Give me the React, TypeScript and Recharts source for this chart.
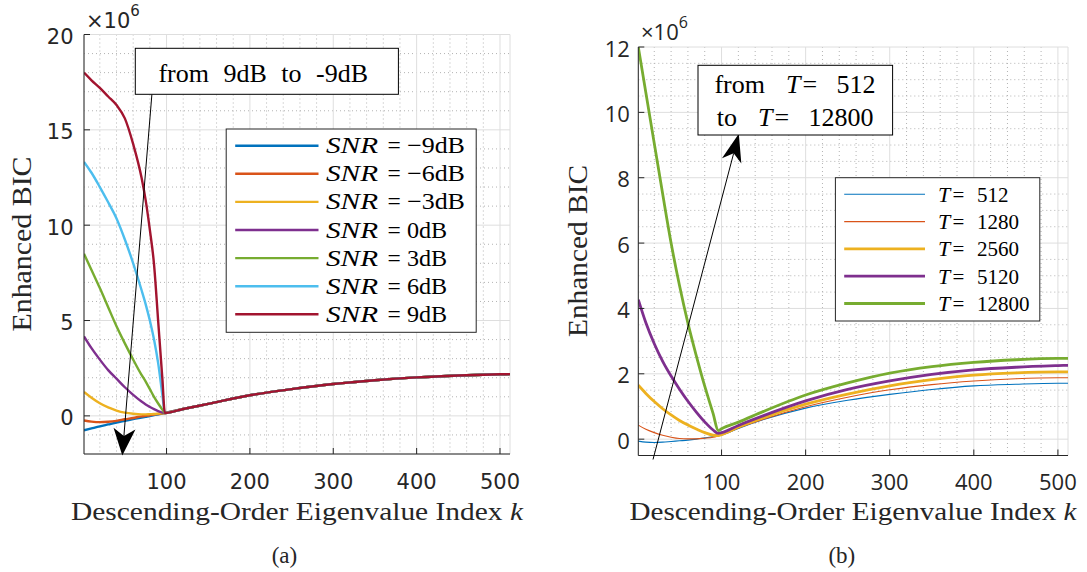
import React from 'react';
import { LineChart, Line, XAxis, YAxis, CartesianGrid } from 'recharts';

// ---------------- Plot (a): SNR sweep ----------------
const kA = [1, 10, 20, 30, 40, 50, 60, 70, 75, 80, 85, 90, 95, 98, 120, 150, 200, 250, 300, 350, 400, 450, 500, 512];
const tailA = [0.36, 0.63, 1.08, 1.4, 1.67, 1.87, 2.02, 2.12, 2.18, 2.19];
const snrM9 = [-0.76, -0.66, -0.55, -0.45, -0.35, -0.26, -0.17, -0.09, -0.05, -0.01, 0.04, 0.08, 0.12, 0.15];
const snrM6 = [-0.24, -0.3, -0.33, -0.31, -0.26, -0.18, -0.11, -0.03, 0.0, 0.03, 0.07, 0.1, 0.13, 0.15];
const snrM3 = [1.25, 0.95, 0.66, 0.44, 0.28, 0.17, 0.11, 0.08, 0.08, 0.09, 0.1, 0.12, 0.14, 0.15];
const snr0 = [4.17, 3.55, 2.95, 2.4, 1.95, 1.5, 1.1, 0.75, 0.6, 0.47, 0.35, 0.25, 0.17, 0.15];
const snr3 = [8.5, 7.65, 6.7, 5.7, 4.7, 3.8, 2.95, 2.15, 1.8, 1.4, 1.0, 0.65, 0.33, 0.15];
const snr6 = [13.32, 12.75, 12.0, 11.2, 10.35, 9.25, 8.0, 6.6, 5.85, 5.0, 4.0, 2.75, 1.1, 0.15];
const snr9 = [18.0, 17.6, 17.2, 16.75, 16.3, 15.6, 14.25, 12.5, 11.3, 9.75, 7.95, 4.95, 1.95, 0.15];
const headsA = [snrM9, snrM6, snrM3, snr0, snr3, snr6, snr9];
const labelsA = ['−9dB', '−6dB', '−3dB', '0dB', '3dB', '6dB', '9dB'];
const colorsA = ['#0072BD', '#D95319', '#EDB120', '#7E2F8E', '#77AC30', '#4DBEEE', '#A2142F'];
const yTicksA = [0, 5, 10, 15, 20];

// ---------------- Plot (b): T sweep ----------------
const kB = [1, 10, 20, 30, 40, 50, 60, 70, 80, 90, 96, 100, 120, 150, 200, 250, 300, 350, 400, 450, 500, 512];
const t512 = [-0.06, -0.09, -0.1, -0.09, -0.07, -0.05, -0.03, 0.0, 0.04, 0.08, 0.11, 0.13, 0.33, 0.6, 0.95, 1.19, 1.37, 1.52, 1.63, 1.68, 1.71, 1.71];
const t1280 = [0.43, 0.3, 0.2, 0.12, 0.06, 0.02, 0.01, 0.01, 0.03, 0.06, 0.1, 0.13, 0.34, 0.61, 0.99, 1.28, 1.51, 1.67, 1.78, 1.85, 1.88, 1.88];
const t2560 = [1.65, 1.4, 1.15, 0.93, 0.74, 0.57, 0.43, 0.31, 0.2, 0.12, 0.11, 0.14, 0.37, 0.66, 1.07, 1.38, 1.63, 1.82, 1.96, 2.03, 2.06, 2.06];
const t5120 = [4.27, 3.56, 2.92, 2.38, 1.93, 1.53, 1.16, 0.83, 0.53, 0.28, 0.18, 0.2, 0.42, 0.72, 1.17, 1.52, 1.78, 1.98, 2.12, 2.2, 2.25, 2.26];
const t12800 = [12.0, 10.6, 9.05, 7.5, 6.0, 4.7, 3.55, 2.55, 1.62, 0.78, 0.26, 0.32, 0.52, 0.85, 1.35, 1.72, 2.02, 2.22, 2.35, 2.43, 2.47, 2.47];
const seriesB = [t512, t1280, t2560, t5120, t12800];
const labelsB = ['512', '1280', '2560', '5120', '12800'];
const colorsB = ['#0072BD', '#D95319', '#EDB120', '#7E2F8E', '#77AC30'];
const widthsB = [1.1, 1.1, 2.8, 2.8, 2.8];
const yTicksB = [0, 2, 4, 6, 8, 10, 12];

const xTicks = [100, 200, 300, 400, 500];

// ---------------- build tables ----------------
const seriesA = headsA.map((h) => [...h, ...tailA]);
const dataA = kA.map((k, i) => {
  const row: Record<string, number> = { k };
  seriesA.forEach((s, j) => (row['s' + j] = s[i]));
  return row;
});
const dataB = kB.map((k, i) => {
  const row: Record<string, number> = { k };
  seriesB.forEach((s, j) => (row['s' + j] = s[i]));
  return row;
});

const minorX = Array.from({ length: 25 }, (_, i) => (i + 1) * 20).filter((v) => v % 100 !== 0);
const minorYA = Array.from({ length: 21 }, (_, i) => i - 1).filter((v) => v % 5 !== 0);
const minorYB = Array.from({ length: 24 }, (_, i) => i * 0.5).filter((v) => v % 2 !== 0);

// ---------------- styles ----------------
const AX = '#262626';
const serif = '"Liberation Serif", "Times New Roman", serif';
const fontA = { fontFamily: '"DejaVu Sans", sans-serif', fontSize: 21, fill: AX };
const fontB = { fontFamily: '"Open Sans", sans-serif', fontSize: 22, fill: AX };

const bottomTick = (font: any, off: number) => (p: any) => (
  <g>
    <line x1={p.x} x2={p.x} y1={p.y} y2={p.y - 6} stroke={AX} />
    <text x={p.x} y={p.y + off} textAnchor="middle" {...font}>{p.payload.value}</text>
  </g>
);
const topTick = (p: any) => (
  <line x1={p.x} x2={p.x} y1={p.y} y2={p.y + 6} stroke={AX} />
);
const leftTick = (font: any, dx: number) => (p: any) => (
  <g>
    <line x1={p.x} x2={p.x + 6} y1={p.y} y2={p.y} stroke={AX} />
    <text x={p.x - dx} y={p.y + 9.5} textAnchor="end" {...font}>{p.payload.value}</text>
  </g>
);
const rightTick = (p: any) => (
  <line x1={p.x} x2={p.x - 6} y1={p.y} y2={p.y} stroke={AX} />
);

// approximate Computer Modern advance widths (em) for legend value strings
const cmW: Record<string, number> = { '−': 0.778, d: 0.556, B: 0.708 };
const cmWidth = (s: string) => s.split('').reduce((a, c) => a + (cmW[c] ?? 0.5), 0);

function arrow(tail: number[], tip: number[], L: number, W: number) {
  const dx = tip[0] - tail[0];
  const dy = tip[1] - tail[1];
  const len = Math.hypot(dx, dy);
  const ux = dx / len, uy = dy / len;
  const nx = -uy, ny = ux;
  const bx = tip[0] - ux * L, by = tip[1] - uy * L;
  const notch = [tip[0] - ux * L * 0.72, tip[1] - uy * L * 0.72];
  const head = `M${tip[0]},${tip[1]} L${bx + (nx * W) / 2},${by + (ny * W) / 2} L${notch[0]},${notch[1]} L${bx - (nx * W) / 2},${by - (ny * W) / 2} Z`;
  return (
    <g>
      <line x1={tail[0]} y1={tail[1]} x2={notch[0]} y2={notch[1]} stroke="#000" strokeWidth={1} />
      <path d={head} fill="#000" />
    </g>
  );
}

export default function App() {
  const legATop = 145.7;
  const legAStep = 28.1;
  const legBTop = 194.3;
  const legBStep = 27.3;
  return (
    <div style={{ position: 'absolute', left: 0, top: 0, width: 1087, height: 572, background: '#fff', overflow: 'hidden' }}>
      {/* ---- chart (a) ---- */}
      <div style={{ position: 'absolute', left: 0, top: 0 }}>
        <LineChart width={540} height={572} data={dataA} margin={{ top: 34.5, right: 30, bottom: 78, left: 24 }}>
          <CartesianGrid stroke="#b3b3b3" strokeDasharray="1 3" horizontalValues={minorYA} verticalValues={minorX} />
          <CartesianGrid stroke="#dedede" />
          <XAxis dataKey="k" type="number" domain={[1, 512]} allowDataOverflow ticks={xTicks} interval={0} height={40}
            tickSize={0} tickMargin={0} tickLine={false} axisLine={{ stroke: AX }} tick={bottomTick(fontA, 35)} />
          <XAxis xAxisId="top" orientation="top" dataKey="k" type="number" domain={[1, 512]} allowDataOverflow ticks={xTicks}
            interval={0} height={0} tickSize={0} tickMargin={0} tickLine={false} axisLine={{ stroke: AX }} tick={topTick} />
          <YAxis type="number" domain={[-2, 20]} allowDataOverflow ticks={yTicksA} interval={0} width={60}
            tickSize={0} tickMargin={0} tickLine={false} axisLine={{ stroke: AX }} tick={leftTick(fontA, 10.5)} />
          <YAxis yAxisId="right" orientation="right" type="number" domain={[-2, 20]} allowDataOverflow ticks={yTicksA}
            interval={0} width={0} tickSize={0} tickMargin={0} tickLine={false} axisLine={{ stroke: AX }} tick={rightTick} />
          {labelsA.map((_, j) => (
            <Line key={'a' + j} dataKey={'s' + j} type="monotone" stroke={colorsA[j]} strokeWidth={2.4}
              dot={false} activeDot={false} isAnimationActive={false} />
          ))}
        </LineChart>
      </div>

      {/* ---- chart (b) ---- */}
      <div style={{ position: 'absolute', left: 540, top: 0 }}>
        <LineChart width={547} height={572} data={dataB} margin={{ top: 47, right: 19, bottom: 76.5, left: 38.3 }}>
          <CartesianGrid stroke="#b3b3b3" strokeDasharray="1 3" horizontalValues={minorYB} verticalValues={minorX} />
          <CartesianGrid stroke="#dedede" />
          <XAxis dataKey="k" type="number" domain={[1, 512]} allowDataOverflow ticks={xTicks} interval={0} height={40}
            tickSize={0} tickMargin={0} tickLine={false} axisLine={{ stroke: AX }} tick={bottomTick(fontB, 34)} />
          <XAxis xAxisId="top" orientation="top" dataKey="k" type="number" domain={[1, 512]} allowDataOverflow ticks={xTicks}
            interval={0} height={0} tickSize={0} tickMargin={0} tickLine={false} axisLine={{ stroke: AX }} tick={topTick} />
          <YAxis type="number" domain={[-0.5, 12]} allowDataOverflow ticks={yTicksB} interval={0} width={60}
            tickSize={0} tickMargin={0} tickLine={false} axisLine={{ stroke: AX }} tick={leftTick(fontB, 8.5)} />
          <YAxis yAxisId="right" orientation="right" type="number" domain={[-0.5, 12]} allowDataOverflow ticks={yTicksB}
            interval={0} width={0} tickSize={0} tickMargin={0} tickLine={false} axisLine={{ stroke: AX }} tick={rightTick} />
          {labelsB.map((_, j) => (
            <Line key={'b' + j} dataKey={'s' + j} type="monotone" stroke={colorsB[j]} strokeWidth={widthsB[j]}
              dot={false} activeDot={false} isAnimationActive={false} />
          ))}
        </LineChart>
      </div>

      {/* ---- annotations, legends, labels ---- */}
      <svg width={1087} height={572} style={{ position: 'absolute', left: 0, top: 0, pointerEvents: 'none' }}>
        {/* exponent labels */}
        <text x={86} y={28.3} {...fontA}>×10<tspan fontSize={15} dy={-12}>6</tspan></text>
        <text x={641} y={40} {...fontB}>×10<tspan fontSize={16} dy={-12}>6</tspan></text>

        {/* axis labels (a) */}
        <text x={31} y={244} transform="rotate(-90 31 244)" textAnchor="middle" fontFamily={serif} fontSize={27}
          fill={AX} textLength={175} lengthAdjust="spacingAndGlyphs">Enhanced BIC</text>
        <text x={297} y={520} textAnchor="middle" fontFamily={serif} fontSize={26} fill={AX}
          textLength={452} lengthAdjust="spacingAndGlyphs">Descending-Order Eigenvalue Index <tspan fontStyle="italic">k</tspan></text>
        <text x={284.4} y={563} textAnchor="middle" fontFamily={serif} fontSize={23} fill={AX}>(a)</text>

        {/* axis labels (b) */}
        <text x={587} y={251} transform="rotate(-90 587 251)" textAnchor="middle" fontFamily={serif} fontSize={27}
          fill={AX} textLength={172} lengthAdjust="spacingAndGlyphs">Enhanced BIC</text>
        <text x={853} y={520} textAnchor="middle" fontFamily={serif} fontSize={26} fill={AX}
          textLength={447} lengthAdjust="spacingAndGlyphs">Descending-Order Eigenvalue Index <tspan fontStyle="italic">k</tspan></text>
        <text x={841.8} y={563} textAnchor="middle" fontFamily={serif} fontSize={23} fill={AX}>(b)</text>

        {/* legend (a) */}
        <rect x={226.2} y={129} width={250} height={203.3} fill="#fff" stroke={AX} strokeWidth={1} />
        {labelsA.map((lab, i) => {
          const y = legATop + i * legAStep;
          return (
            <g key={'la' + i}>
              <line x1={235.2} x2={318.5} y1={y} y2={y} stroke={colorsA[i]} strokeWidth={2.4} />
              <text x={326} y={y + 7.5} fontFamily={serif} fontSize={23.5} fontStyle="italic" fill="#000"
                textLength={52} lengthAdjust="spacingAndGlyphs">SNR</text>
              <text x={387.5} y={y + 7.5} fontFamily={serif} fontSize={23.5} fill="#000">=</text>
              <text x={407} y={y + 7.5} fontFamily={serif} fontSize={23.5} fill="#000"
                textLength={cmWidth(lab) * 23.5 * 0.97} lengthAdjust="spacingAndGlyphs">{lab}</text>
            </g>
          );
        })}

        {/* legend (b) */}
        <rect x={835.4} y={177.7} width={204.4} height={143.3} fill="#fff" stroke={AX} strokeWidth={1} />
        {labelsB.map((lab, i) => {
          const y = legBTop + i * legBStep;
          return (
            <g key={'lb' + i}>
              <line x1={844.2} x2={925} y1={y} y2={y} stroke={colorsB[i]} strokeWidth={widthsB[i]} />
              <text x={938} y={y + 7.4} fontFamily={serif} fontSize={22} fontStyle="italic" fill="#000">T</text>
              <text x={952.5} y={y + 7.4} fontFamily={serif} fontSize={21} fill="#000">=</text>
              <text x={977} y={y + 7.4} fontFamily={serif} fontSize={21} fill="#000">{lab}</text>
            </g>
          );
        })}

        {/* annotation (a) */}
        {arrow([151.9, 94.3], [122.3, 455.5], 27, 22)}
        <rect x={135.3} y={48.3} width={263.1} height={46} fill="#fff" stroke="#000" strokeWidth={1} />
        <text x={158.4} y={81.7} fontFamily={serif} fontSize={26} fill="#000" wordSpacing={8}>from 9dB to -9dB</text>

        {/* annotation (b) */}
        {arrow([653, 459.5], [738.8, 133.8], 28, 20)}
        <rect x={698} y={65.3} width={194.6} height={69.7} fill="#fff" stroke="#000" strokeWidth={1} />
        <text x={714.4} y={93} fontFamily={serif} fontSize={26} fill="#000">from</text>
        <text x={786} y={93} fontFamily={serif} fontSize={26} fontStyle="italic" fill="#000">T</text>
        <text x={802.5} y={93} fontFamily={serif} fontSize={26} fill="#000">=</text>
        <text x={836.5} y={93} fontFamily={serif} fontSize={26} fill="#000">512</text>
        <text x={716.8} y={126.3} fontFamily={serif} fontSize={26} fill="#000">to</text>
        <text x={758} y={126.3} fontFamily={serif} fontSize={26} fontStyle="italic" fill="#000">T</text>
        <text x={774.5} y={126.3} fontFamily={serif} fontSize={26} fill="#000">=</text>
        <text x={808.6} y={126.3} fontFamily={serif} fontSize={26} fill="#000">12800</text>
      </svg>
    </div>
  );
}
